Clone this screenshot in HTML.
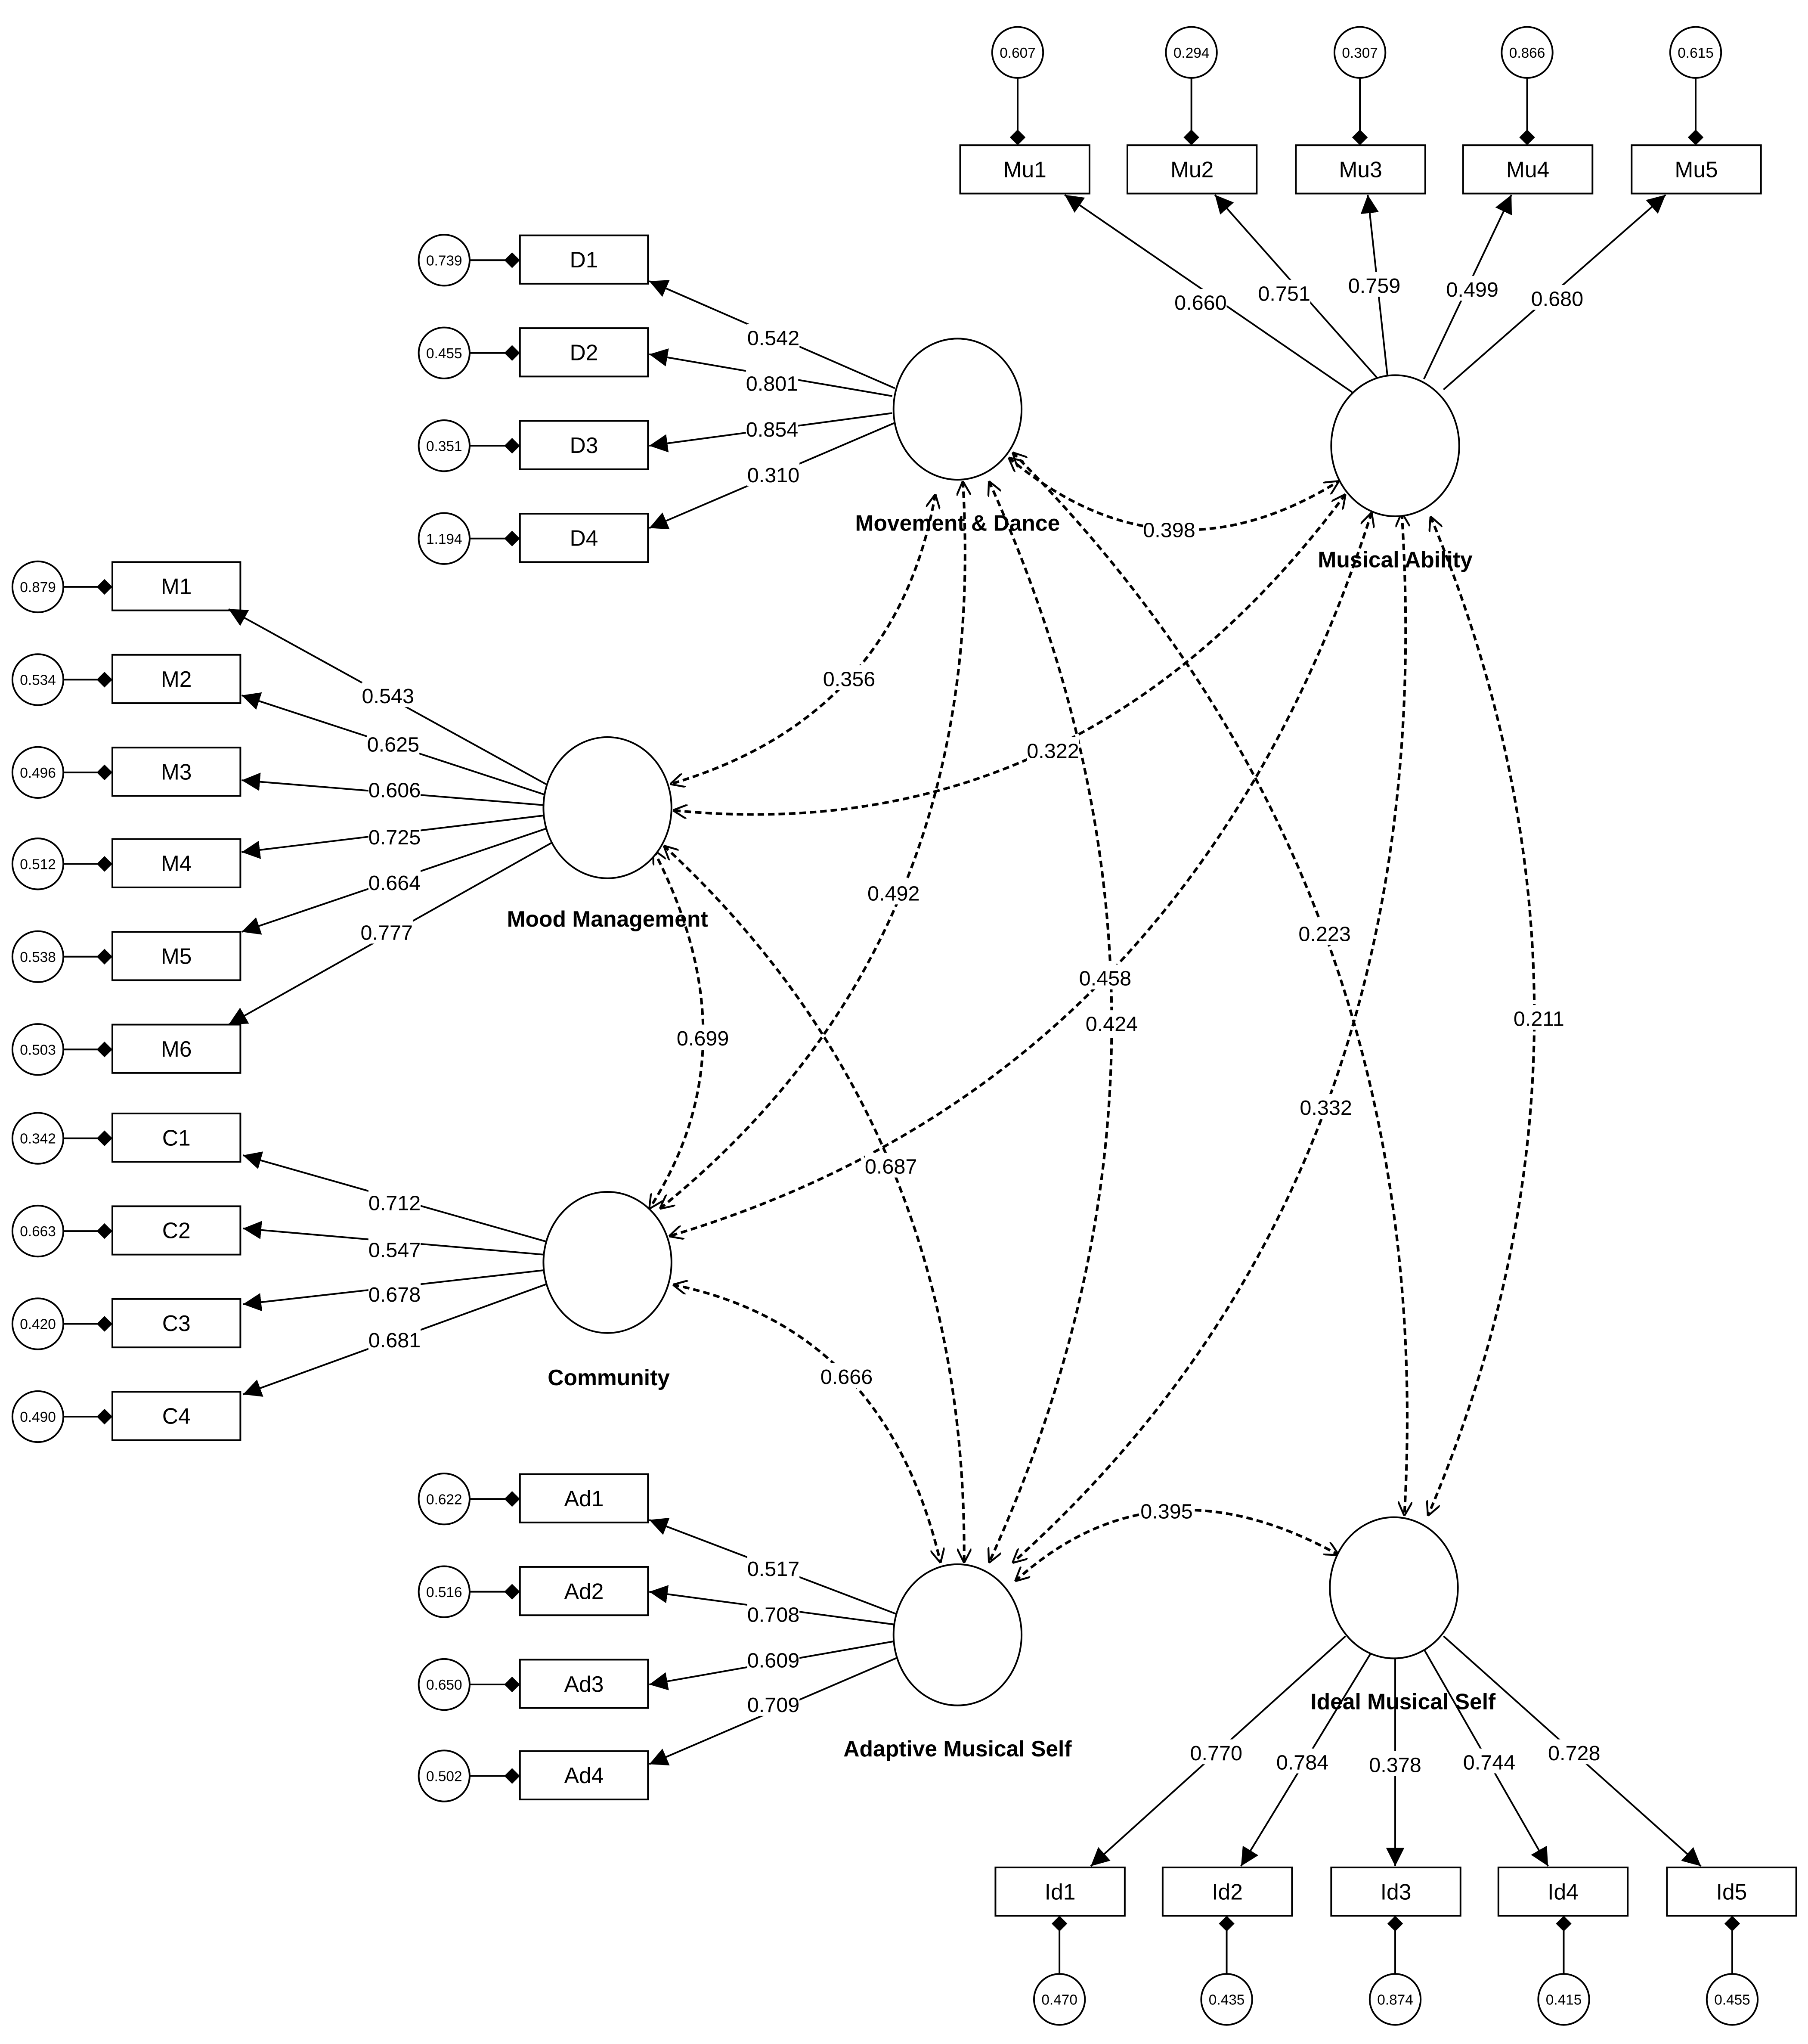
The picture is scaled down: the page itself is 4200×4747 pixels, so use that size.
<!DOCTYPE html>
<html><head><meta charset="utf-8"><style>
html,body{margin:0;padding:0;background:#fff}
svg{display:block}
text{font-family:"Liberation Sans",Arial,sans-serif}
.lb{font-size:16px}
.ev{font-size:11px}
.bx{font-size:17px}
.lat{font-size:17px;font-weight:bold}
</style></head><body>
<svg width="4200" height="4747" viewBox="0 0 1384 1564" xmlns="http://www.w3.org/2000/svg">
<defs>
<marker id="tri" viewBox="0 0 10 10" refX="10" refY="5" markerWidth="14" markerHeight="14" markerUnits="userSpaceOnUse" orient="auto"><path d="M0,0L10,5L0,10z" fill="#000"/></marker>
<marker id="dia" viewBox="0 0 10 10" refX="10" refY="5" markerWidth="14" markerHeight="12" markerUnits="userSpaceOnUse" orient="auto"><path d="M0,5L5,0L10,5L5,10z" fill="#000"/></marker>
<marker id="chev" viewBox="0 0 10 10" refX="10" refY="5" markerWidth="11" markerHeight="11" markerUnits="userSpaceOnUse" orient="auto-start-reverse"><path d="M0,0L10,5L0,10" fill="none" stroke="#000" stroke-width="1.3"/></marker>
</defs>
<rect width="1384" height="1564" fill="#fff"/>
<g id="g" fill="none" stroke="#000" stroke-width="1.3"></g>
<g id="t"></g>
</svg>
<script>
var g=document.getElementById('g'),t=document.getElementById('t'),NS="http://www.w3.org/2000/svg";
function el(p,n,a,txt){var e=document.createElementNS(NS,n);for(var k in a)e.setAttribute(k,a[k]);if(txt!=null)e.textContent=txt;p.appendChild(e);return e;}
function line(x1,y1,x2,y2,m){var a={x1:x1,y1:y1,x2:x2,y2:y2};if(m)a['marker-end']='url(#'+m+')';el(g,'line',a);}
function box(x,y,w,h,s){el(g,'rect',{x:x,y:y,width:w,height:h});el(t,'text',{x:x+w/2,y:y+h/2+6,'text-anchor':'middle','class':'bx'},s);}
function ec(cx,cy,s){el(g,'circle',{cx:cx,cy:cy,r:19.5});el(t,'text',{x:cx,y:cy+4,'text-anchor':'middle','class':'ev'},s);}
function lbl(x,y,s){el(t,'rect',{x:x-20,y:y-10,width:40,height:19,fill:'#fff'});el(t,'text',{x:x,y:y+6,'text-anchor':'middle','class':'lb'},s);}
function lat(cx,cy,lx,ly,s){el(g,'ellipse',{cx:cx,cy:cy,rx:49,ry:54,fill:'#fff'});el(t,'text',{x:lx,y:ly,'text-anchor':'middle','class':'lat'},s);}
function cov(x1,y1,cx,cy,x2,y2){el(g,'path',{d:'M'+x1+','+y1+' Q'+cx+','+cy+' '+x2+','+y2,'stroke-dasharray':'5,3','stroke-width':'2','marker-start':'url(#chev)','marker-end':'url(#chev)'});}
// covariances
cov(772,350,892,451,1025,368);
cov(716,378,686,549,513,600);
cov(1030,378,827,651,515,620);
cov(737,368,759,720,505,925);
cov(1050,392,911,827,512,946);
cov(757,368,945,784,757,1196);
cov(775,346,1103,675,1075,1160);
cov(1073,392,1106,900,775,1196);
cov(1095,395,1255,780,1093,1160);
cov(500,650,578,800,497,925);
cov(508,647,741,862,738,1196);
cov(515,983,678,1016,720,1196);
cov(777,1210,885,1112,1025,1190);
// Mu
var mx=[735,863,992,1120,1249],mc=[779,912,1041,1169,1298],me=['0.607','0.294','0.307','0.866','0.615'],ma=[815,930,1047,1157,1275],ms=[[1035,300],[1055,290],[1062,287],[1090,290],[1105,298]];
for(var i=0;i<5;i++){box(mx[i],111,99,37,'Mu'+(i+1));ec(mc[i],40,me[i]);line(mc[i],60,mc[i],111,'dia');line(ms[i][0],ms[i][1],ma[i],149,'tri');}
// D
var dy=[180,251,322,393],de=['0.739','0.455','0.351','1.194'],da=[[497,215],[497,271],[497,341],[497,404]],dst=[[685,297],[683,303],[683,316],[686,323]];
for(i=0;i<4;i++){box(398,dy[i],98,37,'D'+(i+1));ec(340,dy[i]+19,de[i]);line(360,dy[i]+19,398,dy[i]+19,'dia');line(dst[i][0],dst[i][1],da[i][0],da[i][1],'tri');}
// M
var my=[430,501,572,642,713,784],mee=['0.879','0.534','0.496','0.512','0.538','0.503'],mA=[[175,466],[185,532],[185,597],[185,652],[185,713],[175,784]],mS=[[418,600],[417,608],[416,616],[416,624],[418,634],[422,645]];
for(i=0;i<6;i++){box(86,my[i],98,37,'M'+(i+1));ec(29,my[i]+19,mee[i]);line(49,my[i]+19,86,my[i]+19,'dia');line(mS[i][0],mS[i][1],mA[i][0],mA[i][1],'tri');}
// C
var cy=[852,923,994,1065],ce=['0.342','0.663','0.420','0.490'],cA=[[186,884],[186,940],[186,998],[186,1067]],cS=[[418,950],[416,960],[416,972],[420,982]];
for(i=0;i<4;i++){box(86,cy[i],98,37,'C'+(i+1));ec(29,cy[i]+19,ce[i]);line(49,cy[i]+19,86,cy[i]+19,'dia');line(cS[i][0],cS[i][1],cA[i][0],cA[i][1],'tri');}
// Ad
var ay=[1128,1199,1270,1340],ae=['0.622','0.516','0.650','0.502'],aA=[[497,1163],[497,1218],[497,1289],[497,1350]],aS=[[686,1235],[684,1243],[684,1256],[688,1268]];
for(i=0;i<4;i++){box(398,ay[i],98,37,'Ad'+(i+1));ec(340,ay[i]+19,ae[i]);line(360,ay[i]+19,398,ay[i]+19,'dia');line(aS[i][0],aS[i][1],aA[i][0],aA[i][1],'tri');}
// Id
var ix=[762,890,1019,1147,1276],ic=[811,939,1068,1197,1326],ie=['0.470','0.435','0.874','0.415','0.455'],iA=[[835,1428],[950,1428],[1068,1428],[1185,1428],[1302,1428]],iS=[[1030,1252],[1050,1264],[1068,1269],[1090,1262],[1105,1252]];
for(i=0;i<5;i++){box(ix[i],1429,99,37,'Id'+(i+1));ec(ic[i],1530,ie[i]);line(ic[i],1510,ic[i],1466,'dia');line(iS[i][0],iS[i][1],iA[i][0],iA[i][1],'tri');}
// latents
lat(733,313,733,406,'Movement & Dance');
lat(1068,341,1068,434,'Musical Ability');
lat(465,618,465,709,'Mood Management');
lat(465,966,466,1060,'Community');
lat(733,1251,733,1344,'Adaptive Musical Self');
lat(1067,1215,1074,1308,'Ideal Musical Self');
// labels
var L=[[919,231,'0.660'],[983,224,'0.751'],[1052,218,'0.759'],[1127,221,'0.499'],[1192,228,'0.680'],
[592,258,'0.542'],[591,293,'0.801'],[591,328,'0.854'],[592,363,'0.310'],
[297,532,'0.543'],[301,569,'0.625'],[302,604,'0.606'],[302,640,'0.725'],[302,675,'0.664'],[296,713,'0.777'],
[302,920,'0.712'],[302,956,'0.547'],[302,990,'0.678'],[302,1025,'0.681'],
[592,1200,'0.517'],[592,1235,'0.708'],[592,1270,'0.609'],[592,1304,'0.709'],
[931,1341,'0.770'],[997,1348,'0.784'],[1068,1350,'0.378'],[1140,1348,'0.744'],[1205,1341,'0.728'],
[895,405,'0.398'],[650,519,'0.356'],[806,574,'0.322'],[684,683,'0.492'],[846,748,'0.458'],[851,783,'0.424'],
[1014,714,'0.223'],[1015,847,'0.332'],[1178,779,'0.211'],[538,794,'0.699'],[682,892,'0.687'],[648,1053,'0.666'],[893,1156,'0.395']];
L.forEach(function(a){lbl(a[0],a[1],a[2]);});
</script>
</body></html>
